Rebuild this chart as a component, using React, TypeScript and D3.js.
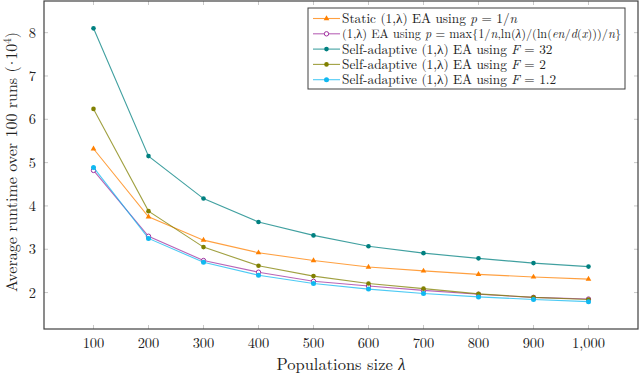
import React from "react";
import * as d3 from "d3";

const lambdas = [100, 200, 300, 400, 500, 600, 700, 800, 900, 1000];
const staticRun = [5.32, 3.75, 3.21, 2.92, 2.74, 2.59, 2.5, 2.42, 2.36, 2.31];
const maxRun = [4.82, 3.3, 2.74, 2.47, 2.26, 2.15, 2.05, 1.96, 1.89, 1.85];
const f32Run = [8.1, 5.15, 4.17, 3.63, 3.32, 3.07, 2.91, 2.79, 2.68, 2.6];
const f2Run = [6.24, 3.88, 3.05, 2.62, 2.38, 2.21, 2.09, 1.97, 1.89, 1.84];
const f12Run = [4.89, 3.25, 2.7, 2.4, 2.21, 2.08, 1.98, 1.9, 1.84, 1.79];
const yTicks = [2, 3, 4, 5, 6, 7, 8];

type Part = [string, boolean];
const series: { name: Part[]; values: number[]; color: string; marker: string; size?: number }[] = [
  { name: [["Static (1,λ) EA using ", false], ["p", true], [" = 1/", false], ["n", true]], values: staticRun, color: "#ff8000", marker: "tri" },
  {
    name: [["(1,λ) EA using ", false], ["p", true], [" = max{1/", false], ["n", true], [",ln(", false], ["λ", true], [")/(ln(", false], ["en", true], ["/", false], ["d", true], ["(", false], ["x", true], [")))/", false], ["n", true], ["}", false]],
    values: maxRun, color: "#a0309f", marker: "open", size: 12.3,
  },
  { name: [["Self-adaptive (1,λ) EA using ", false], ["F", true], [" = 32", false]], values: f32Run, color: "#008080", marker: "dot" },
  { name: [["Self-adaptive (1,λ) EA using ", false], ["F", true], [" = 2", false]], values: f2Run, color: "#808000", marker: "dot" },
  { name: [["Self-adaptive (1,λ) EA using ", false], ["F", true], [" = 1.2", false]], values: f12Run, color: "#10b8f0", marker: "sq" },
];

const left = 44, right = 638, top = 1, bottom = 329;
const tf = { fontFamily: "'Latin Modern Roman', 'Liberation Serif', serif" };

function Marker({ kind, x, y, color }: { kind: string; x: number; y: number; color: string }) {
  if (kind === "tri") {
    const p = d3.symbol(d3.symbolTriangle, 14)()!;
    return <path d={p} transform={`translate(${x},${y})`} fill={color} />;
  }
  if (kind === "open") return <circle cx={x} cy={y} r={2.2} fill="white" stroke={color} strokeWidth={1} />;
  if (kind === "sq") return <circle cx={x} cy={y} r={2.5} fill={color} />;
  return <circle cx={x} cy={y} r={2.3} fill={color} />;
}

export default function App() {
  const allVals = series.flatMap((s) => s.values);
  const yMin = d3.min(allVals)!, yMax = d3.max(allVals)!;
  const pad = (yMax - yMin) * 0.1;
  const x = d3.scaleLinear().domain([10, 1090]).range([left, right]);
  const y = d3.scaleLinear().domain([yMin - pad, yMax + pad]).range([bottom, top]);
  const line = d3.line<number>().x((_, i) => x(lambdas[i])).y((v) => y(v));
  const fmt = d3.format(",");

  return (
    <svg width={640} height={376} style={{ position: "absolute", left: 0, top: 0, background: "white" }}>
      {/* tick marks on all sides */}
      {lambdas.map((l) => (
        <g key={l} stroke="#c8c8c8" strokeWidth={1}>
          <line x1={x(l)} x2={x(l)} y1={bottom} y2={bottom - 4} />
          <line x1={x(l)} x2={x(l)} y1={top} y2={top + 4} />
        </g>
      ))}
      {yTicks.map((t) => (
        <g key={t} stroke="#c8c8c8" strokeWidth={1}>
          <line x1={left} x2={left + 4} y1={y(t)} y2={y(t)} />
          <line x1={right} x2={right - 4} y1={y(t)} y2={y(t)} />
        </g>
      ))}
      {series.map((s, si) => (
        <g key={si}>
          <path d={line(s.values)!} fill="none" stroke={s.color} strokeOpacity={0.75} strokeWidth={1.1} />
          {s.values.map((v, i) => (
            <Marker key={i} kind={s.marker} x={x(lambdas[i])} y={y(v)} color={s.color} />
          ))}
        </g>
      ))}
      <rect x={left} y={top} width={right - left} height={bottom - top} fill="none" stroke="#404040" strokeWidth={1.2} />
      {lambdas.map((l) => (
        <text key={l} x={x(l)} y={bottom + 19} textAnchor="middle" fontSize={14.5} fill="#222" style={tf}>
          {fmt(l)}
        </text>
      ))}
      {yTicks.map((t) => (
        <text key={t} x={left - 8} y={y(t) + 5} textAnchor="end" fontSize={14.5} fill="#222" style={tf}>
          {t}
        </text>
      ))}
      <text x={(left + right) / 2} y={370} textAnchor="middle" fontSize={16.5} fill="#222" style={tf}>
        Populations size <tspan fontStyle="italic">λ</tspan>
      </text>
      <text transform={`translate(17,162) rotate(-90)`} textAnchor="middle" fontSize={16} fill="#222" style={tf}>
        Average runtime over 100 runs (<tspan dx={-3}>·</tspan><tspan dx={-3}>10</tspan>
        <tspan dy={-6} fontSize={11}>4</tspan>
        <tspan dy={6}>)</tspan>
      </text>
      {/* legend */}
      <g>
        <rect x={308} y={8} width={317} height={81} fill="white" stroke="#404040" strokeWidth={1} />
        {series.map((s, i) => {
          const ly = 18.5 + i * 15.3;
          return (
            <g key={i}>
              <line x1={313} x2={340} y1={ly} y2={ly} stroke={s.color} strokeOpacity={0.75} strokeWidth={1.1} />
              <Marker kind={s.marker} x={326.5} y={ly} color={s.color} />
              <text x={342} y={ly + 4.5} fontSize={s.size ?? 13.3} fill="#222" style={tf}>
                {s.name.map((p, j) => (
                  <tspan key={j} fontStyle={p[1] ? "italic" : "normal"}>
                    {p[0]}
                  </tspan>
                ))}
              </text>
            </g>
          );
        })}
      </g>
    </svg>
  );
}
